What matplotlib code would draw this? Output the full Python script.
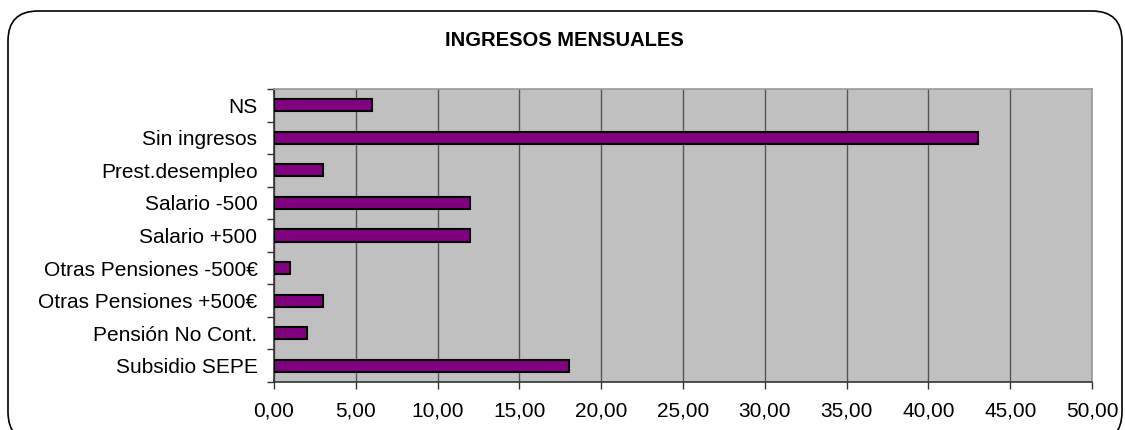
import matplotlib
matplotlib.use("Agg")
import matplotlib.pyplot as plt
from matplotlib.patches import FancyBboxPatch
import numpy as np

# Datos (de abajo hacia arriba)
categorias = ["Subsidio SEPE", "Pensión No Cont.", "Otras Pensiones +500€",
              "Otras Pensiones -500€", "Salario +500", "Salario -500",
              "Prest.desempleo", "Sin ingresos", "NS"]
valores = [18, 2, 3, 1, 12, 12, 3, 43, 6]
ticks_x = [0, 5, 10, 15, 20, 25, 30, 35, 40, 45, 50]

plt.rcParams['font.family'] = ['Liberation Sans', 'DejaVu Sans']

fig = plt.figure(figsize=(11.25, 4.3), dpi=100)

# marco redondeado del gráfico
marco = FancyBboxPatch((0.08, -0.12), 11.14, 4.31,
                       boxstyle="round,pad=0,rounding_size=0.3",
                       transform=fig.dpi_scale_trans, facecolor="none",
                       edgecolor="black", linewidth=1.2, zorder=-1)
fig.patches.append(marco)

ax = fig.add_axes([0.2436, 0.1116, 0.7271, 0.6814])
ax.set_facecolor("#C0C0C0")

y = np.arange(len(categorias))
ax.barh(y, valores, height=0.37, color="#800080", edgecolor="black",
        linewidth=1.5, zorder=3)

ax.set_xlim(0, 50)
ax.set_ylim(-0.5, len(categorias) - 0.5)
ax.set_xticks(ticks_x)
ax.set_xticklabels([f"{v:.2f}".replace(".", ",") for v in ticks_x], fontsize=15)
ax.set_yticks(y)
ax.set_yticklabels(categorias, fontsize=15)
ax.set_yticks(np.arange(-0.5, len(categorias)), minor=True)
ax.tick_params(axis="y", which="major", length=0, pad=12)
ax.tick_params(axis="y", which="minor", length=5, width=1, color="#333333")
ax.tick_params(axis="x", length=5, width=1, color="#333333", pad=9)

ax.grid(axis="x", color="#555555", linewidth=1, zorder=1)
ax.set_axisbelow(True)
for lado in ["top", "right"]:
    ax.spines[lado].set_color("#999999")
    ax.spines[lado].set_linewidth(1.2)
for lado in ["left", "bottom"]:
    ax.spines[lado].set_color("#333333")
    ax.spines[lado].set_linewidth(1.2)

fig.text(0.502, 0.905, "INGRESOS MENSUALES", ha="center", va="center",
         fontsize=14.5, fontweight="bold")

fig.savefig("out.png", dpi=100)
